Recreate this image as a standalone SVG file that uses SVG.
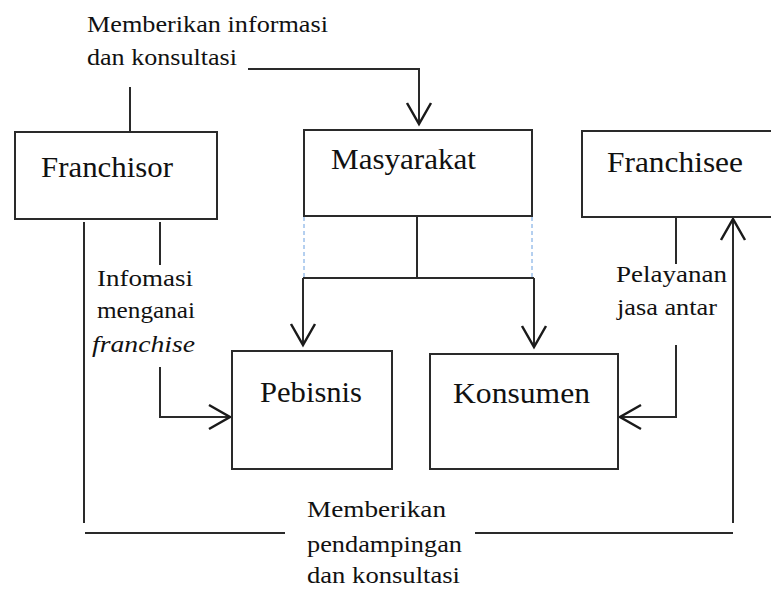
<svg xmlns="http://www.w3.org/2000/svg" width="771" height="589" viewBox="0 0 771 589">
<style>
.box{fill:#fff;stroke:#2a2a2a;stroke-width:2}
.ln{fill:none;stroke:#2a2a2a;stroke-width:2}
.ar{fill:none;stroke:#1a1a1a;stroke-width:2.5}
.dash{fill:none;stroke:#6aa0e0;stroke-width:1;stroke-dasharray:4 3}
.big{font-family:"Liberation Serif","Times New Roman",serif;font-size:30px;fill:#111}
.sm{font-family:"Liberation Serif","Times New Roman",serif;font-size:24px;fill:#111}
</style>
<defs>
<marker id="ah" markerUnits="userSpaceOnUse" markerWidth="30" markerHeight="30" viewBox="-24 -15 26 30" refX="0" refY="0" orient="auto">
<path d="M-21,-12 L0,0 L-21,12" fill="none" stroke="#1a1a1a" stroke-width="2.5"/>
</marker>
</defs>
<rect width="771" height="589" fill="#fff"/>
<g id="connectors">
<path class="ln" d="M130,87 V132"/>
<path class="ln" d="M248,69 H419 V124" marker-end="url(#ah)"/>
<path class="ln" d="M160,222 V265"/>
<path class="ln" d="M160,367 V417 H230" marker-end="url(#ah)"/>
<path class="ln" d="M84,222 V523"/>
<path class="ln" d="M85,533 H285"/>
<path class="ln" d="M475,533 H733"/>
<path class="ln" d="M733,523 V219" marker-end="url(#ah)"/>
<path class="ln" d="M417,217 V278"/>
<path class="ln" d="M303,278 H534"/>
<path class="ln" d="M303,278 V345" marker-end="url(#ah)"/>
<path class="ln" d="M534,278 V347" marker-end="url(#ah)"/>
<path class="ln" d="M676,217 V264"/>
<path class="ln" d="M676,345 V417 H620" marker-end="url(#ah)"/>
<path class="dash" d="M304,217 V277"/>
<path class="dash" d="M532,217 V277"/>
</g>
<g id="franchisor">
<rect class="box" x="15" y="132" width="202" height="87"/>
<text class="big" x="41" y="177" textLength="132" lengthAdjust="spacingAndGlyphs">Franchisor</text>
</g>
<g id="masyarakat">
<rect class="box" x="304" y="130" width="228" height="86"/>
<text class="big" x="331" y="169" textLength="145" lengthAdjust="spacingAndGlyphs">Masyarakat</text>
</g>
<g id="franchisee">
<path class="box" d="M790,131 H582 V217 H790"/>
<text class="big" x="607" y="172" textLength="136" lengthAdjust="spacingAndGlyphs">Franchisee</text>
</g>
<g id="pebisnis">
<rect class="box" x="232" y="351" width="160" height="118"/>
<text class="big" x="260" y="402" textLength="102" lengthAdjust="spacingAndGlyphs">Pebisnis</text>
</g>
<g id="konsumen">
<rect class="box" x="430" y="354" width="188" height="115"/>
<text class="big" x="453" y="403" textLength="137" lengthAdjust="spacingAndGlyphs">Konsumen</text>
</g>
<g id="labels">
<text class="sm" x="87" y="32" textLength="241" lengthAdjust="spacingAndGlyphs">Memberikan informasi</text>
<text class="sm" x="87" y="65" textLength="150" lengthAdjust="spacingAndGlyphs">dan konsultasi</text>
<text class="sm" x="97" y="286" textLength="96" lengthAdjust="spacingAndGlyphs">Infomasi</text>
<text class="sm" x="97" y="318" textLength="98" lengthAdjust="spacingAndGlyphs">menganai</text>
<text class="sm" x="92" y="352" textLength="103" lengthAdjust="spacingAndGlyphs" font-style="italic">franchise</text>
<text class="sm" x="616" y="282" textLength="111" lengthAdjust="spacingAndGlyphs">Pelayanan</text>
<text class="sm" x="617" y="315" textLength="100" lengthAdjust="spacingAndGlyphs">jasa antar</text>
<text class="sm" x="307" y="517" textLength="139" lengthAdjust="spacingAndGlyphs">Memberikan</text>
<text class="sm" x="307" y="552" textLength="155" lengthAdjust="spacingAndGlyphs">pendampingan</text>
<text class="sm" x="307" y="583" textLength="153" lengthAdjust="spacingAndGlyphs">dan konsultasi</text>
</g>
</svg>
